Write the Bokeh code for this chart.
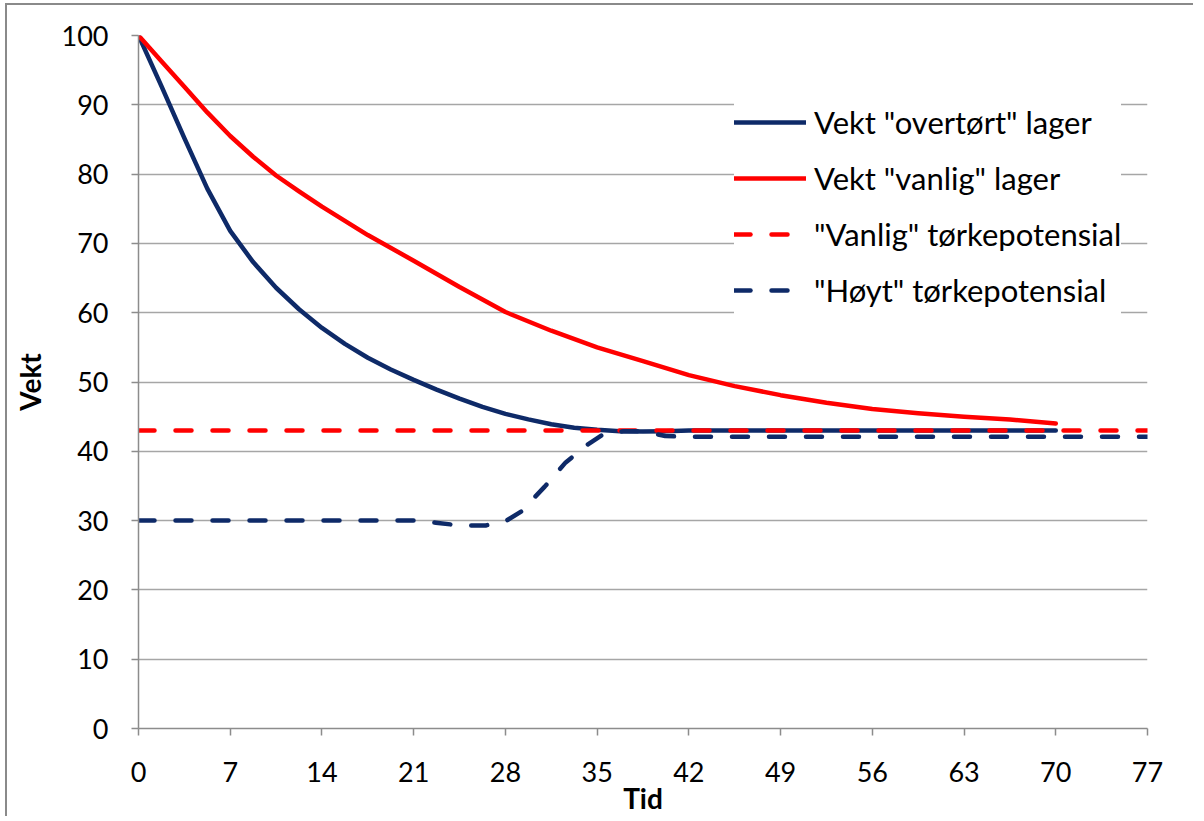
from bokeh.plotting import figure
from bokeh.models import FixedTicker, Legend, LegendItem, Range1d
from bokeh.embed import file_html
from bokeh.resources import INLINE

# ---- data ----
x_ticks = [0, 7, 14, 21, 28, 35, 42, 49, 56, 63, 70, 77]
y_ticks = [0, 10, 20, 30, 40, 50, 60, 70, 80, 90, 100]

overtort_t = [0, 1.75, 3.5, 5.25, 7, 8.75, 10.5, 12.25, 14, 15.75, 17.5, 19.25,
              21, 22.75, 24.5, 26.25, 28, 29.75, 31.5, 33.25, 35, 36.75, 38.5,
              40.25, 42, 49, 56, 63, 70]
overtort_v = [100, 92.7, 85.2, 77.9, 71.8, 67.3, 63.6, 60.5, 57.8, 55.5, 53.5,
              51.8, 50.3, 48.9, 47.6, 46.4, 45.4, 44.6, 43.9, 43.4, 43.1, 42.9,
              42.85, 42.9, 43.0, 43.0, 43.0, 43.0, 43.0]

vanlig_t = [0, 1.75, 3.5, 5.25, 7, 8.75, 10.5, 12.25, 14, 17.5, 21, 24.5, 28,
            31.5, 35, 38.5, 42, 45.5, 49, 52.5, 56, 59.5, 63, 66.5, 70]
vanlig_v = [100, 96.3, 92.6, 88.9, 85.5, 82.5, 79.8, 77.5, 75.3, 71.2, 67.5,
            63.7, 60.1, 57.4, 55.0, 53.0, 51.0, 49.4, 48.1, 47.0, 46.1, 45.5,
            45.0, 44.6, 44.0]

pot_vanlig_t = [0, 77]
pot_vanlig_v = [43, 43]

pot_hoyt_t = [0, 7, 14, 21, 22.7, 24.5, 26.5, 28, 29.2, 31, 32.6, 34.3, 35.5,
              37, 38.5, 40.2, 42, 49, 56, 63, 70, 77]
pot_hoyt_v = [30, 30, 30, 30, 29.7, 29.3, 29.3, 29.9, 31.3, 34.9, 38.4, 41.0,
              42.5, 42.9, 42.9, 42.2, 42.1, 42.1, 42.1, 42.1, 42.1, 42.1]

labels = ['Vekt "overtørt" lager', 'Vekt "vanlig" lager',
          '"Vanlig" tørkepotensial', '"Høyt" tørkepotensial']

NAVY = "#0E2A68"
RED = "#FF0000"
GRID = "#A6A6A6"
AXIS = "#8C8C8C"
FONT = "Lato"

p = figure(width=1188, height=813, output_backend="svg", toolbar_location=None,
           x_range=Range1d(0, 77), y_range=Range1d(0, 100),
           min_border_left=131, min_border_right=48, min_border_top=30,
           min_border_bottom=90)
p.styles = {"margin-left": "5px", "margin-top": "3px",
            "border-left": "2px solid #8A8A8A", "border-top": "2px solid #8A8A8A"}
p.outline_line_color = None
p.background_fill_color = "white"
p.border_fill_color = "white"

p.xgrid.visible = False
p.ygrid.grid_line_color = GRID
p.ygrid.grid_line_width = 1.5
p.ygrid.ticker = FixedTicker(ticks=y_ticks)

p.xaxis.ticker = FixedTicker(ticks=x_ticks)
p.yaxis.ticker = FixedTicker(ticks=y_ticks)
for ax in (p.xaxis[0], p.yaxis[0]):
    ax.axis_line_color = AXIS
    ax.axis_line_width = 1.5
    ax.major_tick_line_color = AXIS
    ax.major_tick_line_width = 1.5
    ax.major_tick_out = 7
    ax.major_tick_in = 0
    ax.minor_tick_line_color = None
    ax.major_label_text_font = FONT
    ax.major_label_text_font_size = "27px"
    ax.major_label_text_color = "black"
    ax.axis_label_text_font = FONT
    ax.axis_label_text_font_size = "28px"
    ax.axis_label_text_font_style = "bold"
    ax.axis_label_text_color = "black"

p.xaxis.axis_label = "Tid"
p.yaxis.axis_label = "Vekt"
p.xaxis.major_label_standoff = 26
p.yaxis.major_label_standoff = 23
p.xaxis.axis_label_standoff = -4
p.yaxis.axis_label_standoff = 12

r1 = p.line(overtort_t, overtort_v, line_color=NAVY, line_width=4.5,
            line_join="round", line_cap="round")
r2 = p.line(vanlig_t, vanlig_v, line_color=RED, line_width=4.5,
            line_join="round", line_cap="round")
r3 = p.line(pot_vanlig_t, pot_vanlig_v, line_color=RED, line_width=4.5,
            line_dash="16 21", line_cap="round")
r4 = p.line(pot_hoyt_t, pot_hoyt_v, line_color=NAVY, line_width=4.5,
            line_dash="16 21", line_cap="round", line_join="round")

legend = Legend(items=[LegendItem(label=labels[0], renderers=[r1]),
                       LegendItem(label=labels[1], renderers=[r2]),
                       LegendItem(label=labels[2], renderers=[r3]),
                       LegendItem(label=labels[3], renderers=[r4])],
                location=(596, 410))
legend.border_line_color = None
legend.background_fill_color = "white"
legend.background_fill_alpha = 1.0
legend.padding = 12
legend.margin = 0
legend.spacing = 0
legend.glyph_width = 72
legend.glyph_height = 56
legend.label_height = 56
legend.label_standoff = 8
legend.label_text_font = FONT
legend.label_text_font_size = "31px"
legend.label_text_color = "black"
p.add_layout(legend)

open("out.html", "w").write(file_html(p, INLINE))
